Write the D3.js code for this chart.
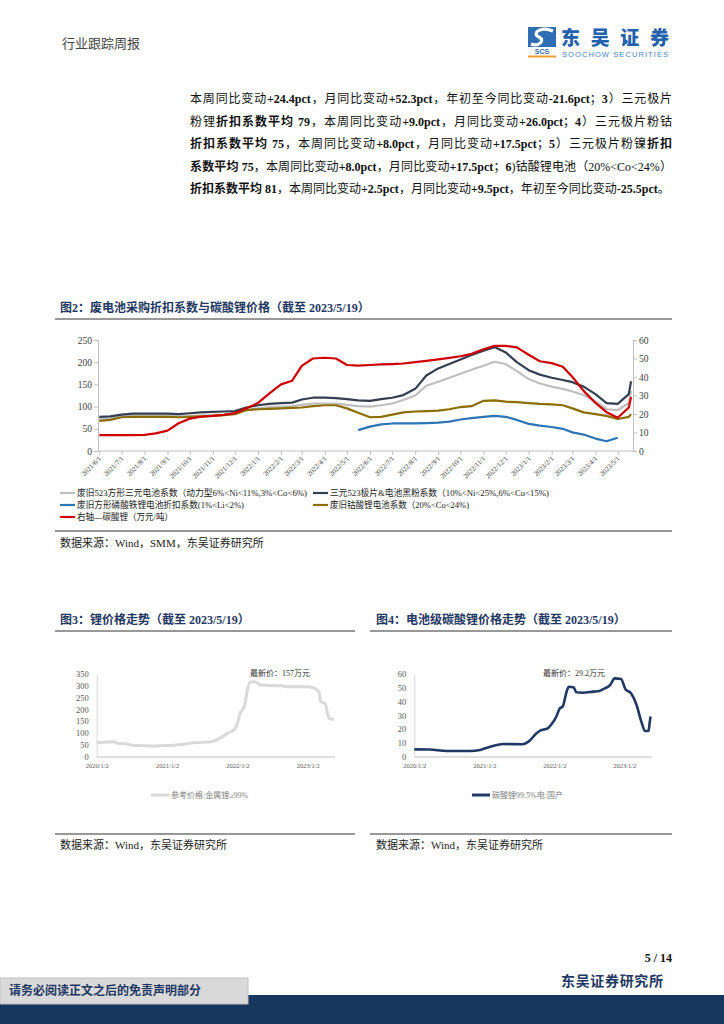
<!doctype html>
<html>
<head>
<meta charset="utf-8">
<script src="https://cdnjs.cloudflare.com/ajax/libs/d3/7.8.5/d3.min.js"></script>
<style>
body { margin: 0; background: #fff; }
#page { position: relative; width: 724px; height: 1024px; overflow: hidden; }
#page svg { position: absolute; left: 0; top: 0; }
.para { position: absolute; left: 190px; top: 88px; width: 482px;
        font-family: "Liberation Serif", "Noto Sans CJK SC"; font-size: 12px; color: #111; }
.para div { height: 22.5px; line-height: 22.5px; text-align: justify; text-align-last: justify; }
.para div.last { text-align: left; text-align-last: left; white-space: nowrap; width: 500px; }
.para b { font-weight: 700; }
</style>
</head>
<body>
<div id="page">
  <div class="para">
    <div>本周同比变动<b>+24.4pct</b>，月同比变动<b>+52.3pct</b>，年初至今同比变动<b>-21.6pct</b>；<b>3</b>）三元极片</div>
    <div>粉锂<b>折扣系数平均 79</b>，本周同比变动<b>+9.0pct</b>，月同比变动<b>+26.0pct</b>；<b>4</b>）三元极片粉钴</div>
    <div><b>折扣系数平均 75</b>，本周同比变动<b>+8.0pct</b>，月同比变动<b>+17.5pct</b>；<b>5</b>）三元极片粉镍<b>折扣</b></div>
    <div><b>系数平均 75</b>，本周同比变动<b>+8.0pct</b>，月同比变动<b>+17.5pct</b>；<b>6</b>)钴酸锂电池（20%&lt;Co&lt;24%）</div>
    <div class="last"><b>折扣系数平均 81</b>，本周同比变动<b>+2.5pct</b>，月同比变动<b>+9.5pct</b>，年初至今同比变动<b>-25.5pct</b>。</div>
  </div>
</div>
<script>
// ---- 图2 数据 ----
var f2Dates = ["2021/6/1","2021/6/16","2021/7/1","2021/7/16","2021/8/1","2021/8/16","2021/9/1","2021/9/16",
  "2021/10/1","2021/10/16","2021/11/1","2021/11/16","2021/12/1","2021/12/16","2022/1/1","2022/1/16",
  "2022/2/1","2022/2/16","2022/3/1","2022/3/16","2022/4/1","2022/4/16","2022/5/1","2022/5/16",
  "2022/6/1","2022/6/16","2022/7/1","2022/7/16","2022/8/1","2022/8/16","2022/9/1","2022/9/16",
  "2022/10/1","2022/10/16","2022/11/1","2022/11/16","2022/12/1","2022/12/16","2023/1/1","2023/1/16",
  "2023/2/1","2023/2/16","2023/3/1","2023/3/16","2023/4/1","2023/4/16","2023/5/1","2023/5/16","2023/5/19"];
var ternaryBattery = [72,73,78,79,79,79,79,78, 79,80,81,82,85,92,96,99, 100,101,104,107,107,107,104,101,
  100,103,107,115,125,147,156,165, 174,183,192,201,196,180,162,152, 145,140,134,126,112,94,92,108, 135];
var ternaryPowder = [77,78,82,84,84,84,84,83, 85,87,88,89,90,98,103,106, 108,109,116,120,120,119,117,114,
  113,117,120,126,140,170,186,196, 206,216,226,234,222,200,182,172, 165,160,155,145,128,108,106,128, 157];
var lfpBattery = [null,null,null,null,null,null,null,null, null,null,null,null,null,null,null,null,
  null,null,null,null,null,null,null,47, 55,60,62,62,62,63,64,66, 71,74,77,79,77,70,61,57,
  54,50,42,37,28,22,30,null, null];
var lcoBattery = [68,70,76,77,77,77,77,76, 77,78,79,81,83,92,94,95, 96,97,98,101,103,103,96,86,
  76,77,82,87,89,90,91,94, 99,101,113,114,111,110,108,106, 105,103,96,87,83,79,72,77, 83];
var li2co3Right = [8.6,8.6,8.6,8.6,8.7,9.5,11,15, 17.5,18.5,19,19.5,20.5,23,26,31, 36,38,46,50,50.4,50,46.5,46.2,
  46.5,46.8,47,47.3,48,48.7,49.5,50.3, 51.2,52.5,55,56.8,56.8,56,52,48.5, 47.5,45.5,40,32.5,26,21,18,23.5, 29.2];
var f2Ticks = ["2021/6/1","2021/7/1","2021/8/1","2021/9/1","2021/10/1","2021/11/1","2021/12/1","2022/1/1",
  "2022/2/1","2022/3/1","2022/4/1","2022/5/1","2022/6/1","2022/7/1","2022/8/1","2022/9/1","2022/10/1",
  "2022/11/1","2022/12/1","2023/1/1","2023/2/1","2023/3/1","2023/4/1","2023/5/1"];
var f2LeftTicks = [0,50,100,150,200,250];
var f2RightTicks = [0,10,20,30,40,50,60];
var f2Legend = ["废旧523方形三元电池系数（动力型6%<Ni<11%,3%<Co<6%)", "三元523极片&电池黑粉系数（10%<Ni<25%,6%<Co<15%)",
  "废旧方形磷酸铁锂电池折扣系数(1%<Li<2%)", "废旧钴酸锂电池系数（20%<Co<24%)", "右轴—碳酸锂（万元/吨）"];

// ---- 图3 数据 ----
var f3Dates = ["2020/1/2","2020/4/5","2020/4/20","2020/5/25","2020/7/20","2020/10/30","2021/1/2","2021/3/15",
  "2021/5/25","2021/8/5","2021/8/20","2021/10/10","2021/11/12","2021/12/20","2022/1/2","2022/1/16","2022/2/6",
  "2022/3/7","2022/4/1","2022/5/5","2022/8/18","2022/9/25","2023/1/2","2023/2/6","2023/3/3","2023/3/10",
  "2023/4/1","2023/4/24","2023/5/19"];
var lithiumMetal = [60,63,56,55,47,45,47,52,59,62,63,82,99,117,141,183,212,315,317,303,300,296,296,289,272,233,226,162,157];
var f3YTicks = [0,50,100,150,200,250,300,350];

// ---- 图4 数据 ----
var f4Dates = ["2020/1/2","2020/3/20","2020/6/20","2020/10/20","2020/12/10","2021/1/2","2021/2/1","2021/3/8",
  "2021/4/10","2021/7/20","2021/8/20","2021/10/1","2021/10/20","2021/11/28","2021/12/15","2022/1/12","2022/1/30",
  "2022/2/14","2022/3/8","2022/3/18","2022/4/12","2022/4/27","2022/5/30","2022/7/24","2022/8/25","2022/9/12",
  "2022/10/20","2022/11/13","2022/12/16","2023/1/8","2023/2/6","2023/3/7","2023/4/1","2023/4/20","2023/5/8",
  "2023/5/15","2023/5/19"];
var batteryLi2co3 = [5.3,5.2,4.1,4.1,4.8,6,7.3,8.5,9.2,9,10.9,17,18.9,20.6,23,29,35,36.3,47.7,50.8,50.3,46.7,
  46.4,47.2,47.7,48.9,52,56.8,56.4,49,46,37.5,25.4,18.6,18.6,25.4,29.2];
var f4YTicks = [0,10,20,30,40,50,60];
var yearTicks = ["2020/1/2","2021/1/2","2022/1/2","2023/1/2"];

var parse = d3.timeParse("%Y/%m/%d");
var fmt = d3.timeFormat("%Y/%-m/%-d");
var navy = "#1F3864";
var cjk = '"Noto Sans CJK SC"';
var serif = '"Liberation Serif","Noto Sans CJK SC"';

var svg = d3.select("#page").append("svg").attr("width", 724).attr("height", 1024);

// ---- 页眉 ----
svg.append("text").attr("x", 62).attr("y", 48).text("行业跟踪周报")
  .style("font-family", cjk).style("font-size", "13px").style("fill", "#444");
var logo = svg.append("g");
logo.append("rect").attr("x", 528).attr("y", 27).attr("width", 28).attr("height", 20).attr("fill", "#2F6DB5");
logo.append("path").attr("d", "M553,31 C541,26 531,33 539,37 C546,41 538,47 531,44")
  .attr("fill", "none").attr("stroke", "#fff").attr("stroke-width", 3.2);
logo.append("text").attr("x", 542).attr("y", 54).attr("text-anchor", "middle").text("SCS")
  .style("font-family", '"Liberation Sans"').style("font-weight", 700).style("font-size", "7px").style("fill", "#2F6DB5");
logo.append("rect").attr("x", 528).attr("y", 55.5).attr("width", 28).attr("height", 2).attr("fill", "#F0A030");
logo.append("text").attr("x", 561).attr("y", 45).text("东吴证券").attr("textLength", 108)
  .style("font-family", cjk).style("font-weight", 900).style("font-size", "19px").style("fill", "#2360AE");
logo.append("text").attr("x", 562).attr("y", 57).text("SOOCHOW SECURITIES").attr("textLength", 106)
  .style("font-family", '"Liberation Sans"').style("font-size", "7.5px").style("fill", "#4A86CF");

function title(x, y, t) {
  svg.append("text").attr("x", x).attr("y", y).text(t)
    .style("font-family", serif).style("font-weight", 700).style("font-size", "12px").style("fill", navy);
}
function rule(x1, x2, y, w) {
  svg.append("line").attr("x1", x1).attr("x2", x2).attr("y1", y).attr("y2", y)
    .attr("stroke", "#333").attr("stroke-width", w || 1.2);
}
function source(x, y, t) {
  svg.append("text").attr("x", x).attr("y", y).text(t)
    .style("font-family", serif).style("font-size", "11px").style("fill", "#222");
}

// ---- 图2 ----
title(60, 312, "图2：废电池采购折扣系数与碳酸锂价格（截至 2023/5/19）");
rule(55, 672, 319);

var x2 = d3.scaleTime().domain([parse("2021/6/1"), parse("2023/5/1")]).range([99.3, 617.7]);
var yL = d3.scaleLinear().domain([0, 250]).range([451, 340]);
var yR = d3.scaleLinear().domain([0, 60]).range([451, 340]);

var gL = svg.append("g").attr("transform", "translate(98,0)")
  .call(d3.axisLeft(yL).tickValues(f2LeftTicks).tickSize(4).tickPadding(2));
var gR = svg.append("g").attr("transform", "translate(633,0)")
  .call(d3.axisRight(yR).tickValues(f2RightTicks).tickSize(4).tickPadding(2));
[gL, gR].forEach(function (g) {
  g.select(".domain").attr("stroke", "#BFBFBF");
  g.selectAll(".tick line").attr("stroke", "#BFBFBF");
  g.selectAll("text").style("font-family", serif).style("font-size", "9.5px").style("fill", "#404040");
});
var gX = svg.append("g").attr("transform", "translate(0,451)")
  .call(d3.axisBottom(x2).tickValues(f2Ticks.map(parse)).tickSize(4).tickFormat(fmt));
gX.select(".domain").remove();
gX.append("line").attr("x1", 98).attr("x2", 633).attr("stroke", "#BFBFBF");
gX.selectAll(".tick line").attr("stroke", "#BFBFBF");
gX.selectAll(".tick text").attr("text-anchor", "end").attr("y", 0).attr("dy", 0)
  .attr("transform", "translate(2,8) rotate(-45)")
  .style("font-family", serif).style("font-size", "7px").style("fill", "#404040");

var f2Series = [
  {vals: ternaryBattery, color: "#BFBFBF", axis: yL},
  {vals: ternaryPowder, color: "#333F50", axis: yL},
  {vals: lcoBattery, color: "#8C6D00", axis: yL},
  {vals: lfpBattery, color: "#2E75B6", axis: yL},
  {vals: li2co3Right, color: "#D00000", axis: yR}
];
f2Series.forEach(function (s) {
  var pts = f2Dates.map(function (d, i) { return [parse(d), s.vals[i]]; });
  var line = d3.line().defined(function (d) { return d[1] != null; })
    .x(function (d) { return x2(d[0]); }).y(function (d) { return s.axis(d[1]); });
  svg.append("path").datum(pts).attr("d", line).attr("fill", "none")
    .attr("stroke", s.color).attr("stroke-width", 2.2).attr("stroke-linejoin", "round");
});

var legendPos = [
  {x: 60, y: 493, c: "#BFBFBF", w: 230}, {x: 313, y: 493, c: "#333F50", w: 219},
  {x: 60, y: 505, c: "#2E75B6", w: 167}, {x: 313, y: 505, c: "#8C6D00", w: 139},
  {x: 60, y: 517, c: "#D00000", w: 96}
];
legendPos.forEach(function (p, i) {
  svg.append("line").attr("x1", p.x).attr("x2", p.x + 15).attr("y1", p.y).attr("y2", p.y)
    .attr("stroke", p.c).attr("stroke-width", 2.2);
  svg.append("text").attr("x", p.x + 17).attr("y", p.y + 3).text(f2Legend[i])
    .attr("textLength", p.w).attr("lengthAdjust", "spacingAndGlyphs")
    .style("font-family", serif).style("font-size", "9px").style("fill", "#222");
});
rule(55, 672, 531);
source(60, 547, "数据来源：Wind，SMM，东吴证券研究所");

// ---- 图3 / 图4 ----
function smallChart(o) {
  var x = d3.scaleTime().domain([parse("2020/1/2"), parse("2023/1/2")]).range(o.xr);
  var y = d3.scaleLinear().domain(o.yd).range([756.7, 674]);
  var gy = svg.append("g").attr("transform", "translate(" + o.xr[0] + ",0)")
    .call(d3.axisLeft(y).tickValues(o.yt).tickSize(0).tickPadding(8));
  gy.select(".domain").attr("stroke", "#D9D9D9");
  gy.selectAll("text").style("font-family", serif).style("font-size", "8.5px").style("fill", "#595959");
  var gx = svg.append("g").attr("transform", "translate(0,757)")
    .call(d3.axisBottom(x).tickValues(yearTicks.map(parse)).tickSize(0).tickPadding(6).tickFormat(fmt));
  gx.select(".domain").remove();
  gx.append("line").attr("x1", o.xr[0]).attr("x2", o.xEnd).attr("stroke", "#BFBFBF");
  gx.selectAll("text").style("font-family", serif).style("font-size", "6.5px").style("fill", "#595959");
  var pts = o.dates.map(function (d, i) { return [parse(d), o.vals[i]]; });
  svg.append("path").datum(pts).attr("fill", "none").attr("stroke", o.color).attr("stroke-width", o.sw)
    .attr("d", d3.line().curve(d3.curveMonotoneX).x(function (d) { return x(d[0]); }).y(function (d) { return y(d[1]); }));
  svg.append("text").attr("x", o.noteX).attr("y", 676).text(o.note)
    .style("font-family", serif).style("font-size", "8px").style("fill", "#333");
  svg.append("line").attr("x1", o.legX).attr("x2", o.legX + 18).attr("y1", 795).attr("y2", 795)
    .attr("stroke", o.color).attr("stroke-width", 3);
  svg.append("text").attr("x", o.legX + 20).attr("y", 798).text(o.leg)
    .style("font-family", serif).style("font-size", "8px").style("fill", "#7F7F7F");
}

title(60, 624, "图3：锂价格走势（截至 2023/5/19）");
rule(55, 355, 631);
smallChart({xr: [96.7, 307.7], xEnd: 335, yd: [0, 350], yt: f3YTicks, dates: f3Dates, vals: lithiumMetal,
  color: "#D9D9D9", sw: 3, note: "最新价：157万元", noteX: 250, legX: 151, leg: "参考价格:金属锂≥99%"});
rule(55, 355, 834);
source(60, 849, "数据来源：Wind，东吴证券研究所");

title(376, 624, "图4：电池级碳酸锂价格走势（截至 2023/5/19）");
rule(370, 672, 631);
smallChart({xr: [414.3, 624.3], xEnd: 652, yd: [0, 60], yt: f4YTicks, dates: f4Dates, vals: batteryLi2co3,
  color: navy, sw: 2.6, note: "最新价：29.2万元", noteX: 543, legX: 472, leg: "碳酸锂99.5%电:国产"});
rule(370, 672, 834);
source(376, 849, "数据来源：Wind，东吴证券研究所");

// ---- 页脚 ----
svg.append("text").attr("x", 672).attr("y", 962).attr("text-anchor", "end").text("5 / 14")
  .style("font-family", '"Liberation Serif"').style("font-weight", 700).style("font-size", "12px").style("fill", "#111");
svg.append("text").attr("x", 561).attr("y", 986).text("东吴证券研究所").attr("textLength", 102)
  .style("font-family", cjk).style("font-weight", 700).style("font-size", "14px").style("fill", navy);
svg.append("rect").attr("x", 0).attr("y", 995).attr("width", 724).attr("height", 29).attr("fill", "#17375E");
svg.append("rect").attr("x", 0).attr("y", 978).attr("width", 248).attr("height", 26).attr("fill", "#D9D9D9")
  .attr("stroke", "#BFBFBF");
svg.append("text").attr("x", 9).attr("y", 995).text("请务必阅读正文之后的免责声明部分")
  .style("font-family", cjk).style("font-weight", 700).style("font-size", "12px").style("fill", navy);
</script>
</body>
</html>
